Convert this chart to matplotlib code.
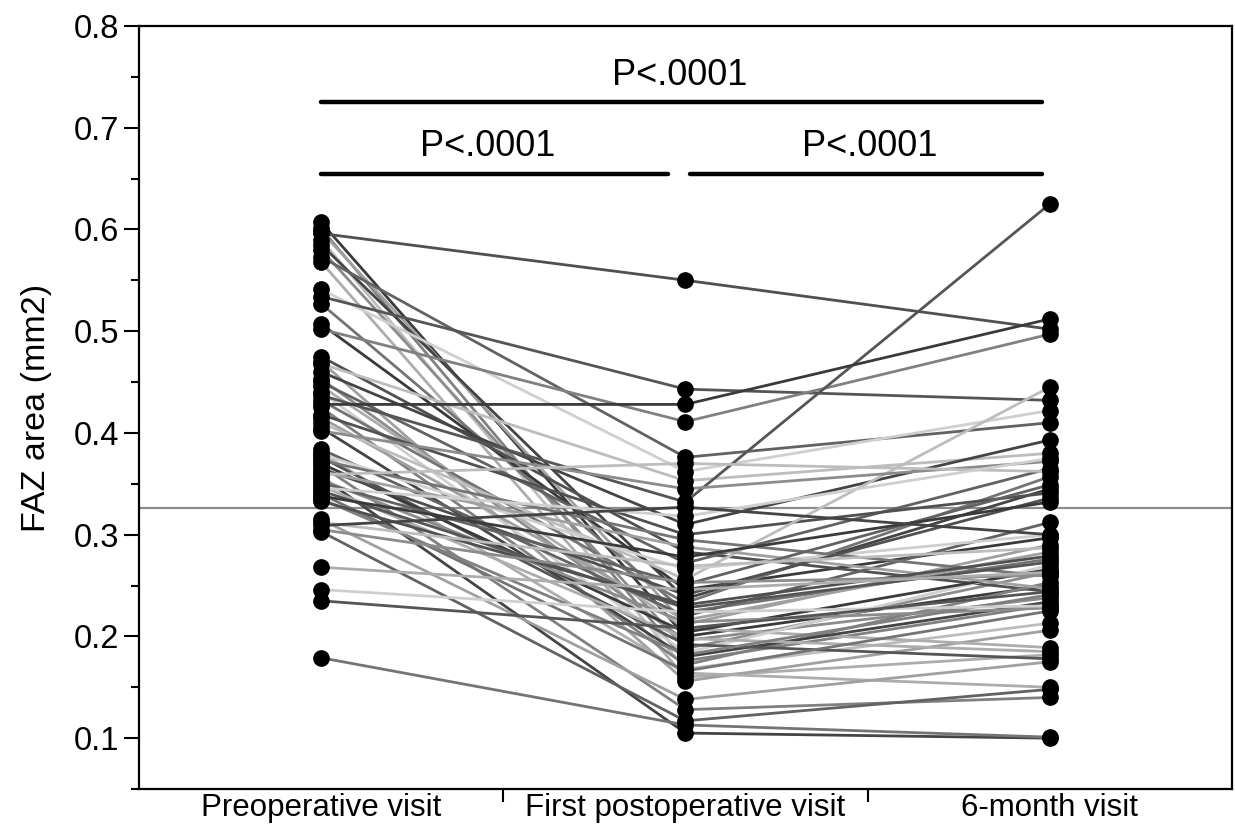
import matplotlib
matplotlib.use("Agg")
import matplotlib.pyplot as plt
from matplotlib.ticker import MultipleLocator, FixedLocator

plt.rcParams['font.family'] = ['Liberation Sans', 'DejaVu Sans']

visits = ["Preoperative visit", "First postoperative visit", "6-month visit"]

preop = [0.607, 0.601, 0.596, 0.598, 0.590, 0.585, 0.580, 0.573, 0.568, 0.541,
         0.534, 0.527, 0.507, 0.502, 0.475, 0.470, 0.468, 0.460, 0.453, 0.450,
         0.446, 0.440, 0.437, 0.432, 0.428, 0.425, 0.418, 0.415, 0.410, 0.405,
         0.402, 0.384, 0.380, 0.379, 0.376, 0.373, 0.370, 0.368, 0.365, 0.362,
         0.359, 0.357, 0.354, 0.351, 0.348, 0.346, 0.343, 0.340, 0.338, 0.335,
         0.333, 0.315, 0.312, 0.309, 0.305, 0.303, 0.268, 0.246, 0.235, 0.179]

postop = [0.200, 0.176, 0.550, 0.212, 0.168, 0.237, 0.188, 0.376, 0.160, 0.362,
          0.443, 0.224, 0.246, 0.411, 0.283, 0.156, 0.353, 0.310, 0.196, 0.272,
          0.208, 0.184, 0.332, 0.233, 0.428, 0.172, 0.300, 0.216, 0.256, 0.180,
          0.345, 0.220, 0.164, 0.266, 0.192, 0.295, 0.204, 0.128, 0.241, 0.288,
          0.370, 0.105, 0.214, 0.251, 0.198, 0.318, 0.228, 0.166, 0.278, 0.182,
          0.231, 0.138, 0.269, 0.327, 0.253, 0.117, 0.246, 0.224, 0.208, 0.113]

month6 = [0.250, 0.231, 0.502, 0.290, 0.213, 0.345, 0.263, 0.410, 0.182, 0.422,
          0.432, 0.276, 0.297, 0.497, 0.244, 0.206, 0.380, 0.393, 0.238, 0.365,
          0.189, 0.270, 0.625, 0.357, 0.512, 0.253, 0.341, 0.283, 0.445, 0.234,
          0.372, 0.312, 0.150, 0.300, 0.178, 0.259, 0.266, 0.140, 0.336, 0.247,
          0.362, 0.100, 0.228, 0.349, 0.185, 0.375, 0.273, 0.225, 0.332, 0.241,
          0.279, 0.175, 0.287, 0.300, 0.260, 0.148, 0.263, 0.230, 0.244, 0.101]

reference_value = 0.326
p_labels = ["P<.0001", "P<.0001", "P<.0001"]

grays = ['#3a3a3a', '#808080', '#505050', '#a0a0a0', '#bdbdbd', '#444444',
         '#8c8c8c', '#626262', '#adadad', '#cfcfcf', '#555555', '#747474']

fig = plt.figure(figsize=(12.35, 8.25), dpi=100)
ax = fig.add_axes([0.1125, 0.0436, 0.885, 0.925])

xs = [0, 1, 2]
ax.axhline(reference_value, color='#8c8c8c', lw=1.6, zorder=1)
for i, (a, b, c) in enumerate(zip(preop, postop, month6)):
    ax.plot(xs, [a, b, c], color=grays[i % len(grays)], lw=2.0, zorder=2,
            solid_capstyle='round')
for i, vals in enumerate([preop, postop, month6]):
    ax.plot([xs[i]] * len(vals), vals, 'o', color='black', ms=11, zorder=3,
            linestyle='none')

# significance bars
ax.plot([0, 1.98], [0.725, 0.725], color='black', lw=3.2, solid_capstyle='round')
ax.plot([0, 0.952], [0.6545, 0.6545], color='black', lw=3.2, solid_capstyle='round')
ax.plot([1.012, 1.98], [0.6545, 0.6545], color='black', lw=3.2, solid_capstyle='round')
ax.text(0.985, 0.734, p_labels[0], ha='center', va='bottom', fontsize=26)
ax.text(0.458, 0.664, p_labels[1], ha='center', va='bottom', fontsize=26)
ax.text(1.505, 0.664, p_labels[2], ha='center', va='bottom', fontsize=26)

ax.set_xlim(-0.5, 2.5)
ax.set_ylim(0.05, 0.8)
ax.yaxis.set_major_locator(MultipleLocator(0.1))
ax.yaxis.set_minor_locator(MultipleLocator(0.05))
ax.set_yticklabels([f"{v:.1f}" for v in ax.get_yticks()])
ax.set_xticks(xs)
ax.set_xticklabels(visits, fontsize=22.5)
ax.xaxis.set_minor_locator(FixedLocator([0.5, 1.5]))
ax.tick_params(axis='x', which='major', length=0, pad=3)
ax.tick_params(axis='x', which='minor', length=9, width=1.5)
ax.tick_params(axis='y', which='major', length=11, width=1.5, labelsize=23.5, pad=3)
ax.tick_params(axis='y', which='minor', length=6, width=1.5)
for s in ax.spines.values():
    s.set_linewidth(1.6)
ax.set_ylabel("FAZ area (mm2)", fontsize=24.5, labelpad=16)

fig.savefig("out.png", dpi=100)
